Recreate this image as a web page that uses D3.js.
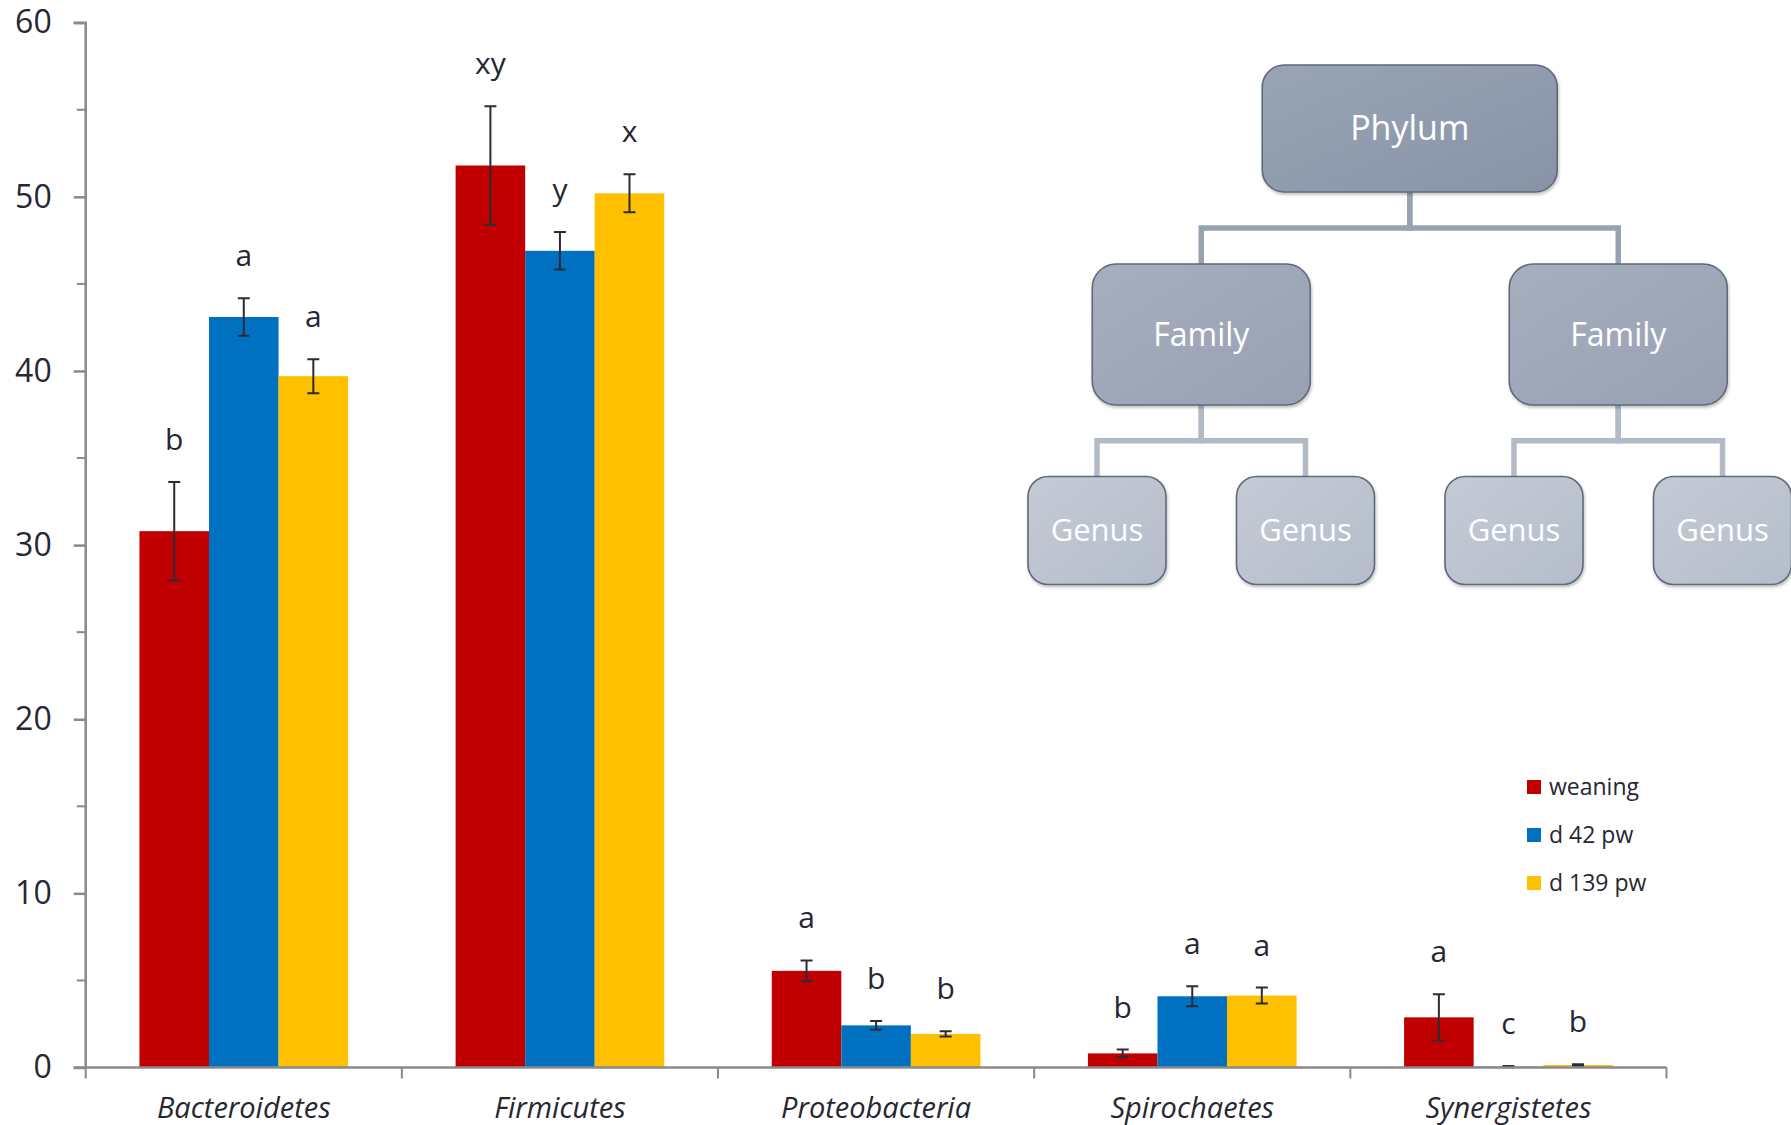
<!DOCTYPE html>
<html>
<head>
<meta charset="utf-8">
<script src="https://cdnjs.cloudflare.com/ajax/libs/d3/7.8.5/d3.min.js"></script>
<style>
  html, body { margin: 0; padding: 0; background: #ffffff; }
  svg { display: block; }
</style>
</head>
<body>
<svg id="chart" width="1791" height="1125"></svg>
<script>
// ---- data ----
const phyla = ["Bacteroidetes", "Firmicutes", "Proteobacteria", "Spirochaetes", "Synergistetes"];
const timepoints = ["weaning", "d 42 pw", "d 139 pw"];

// mean relative abundance (%) per phylum
const weaning = [30.8, 51.8, 5.55, 0.81, 2.88];
const d42pw   = [43.1, 46.9, 2.42, 4.09, 0.05];
const d139pw  = [39.7, 50.2, 1.93, 4.13, 0.14];

// standard errors
const weaningErr = [2.83, 3.4, 0.6, 0.22, 1.33];
const d42pwErr   = [1.08, 1.08, 0.25, 0.57, 0.03];
const d139pwErr  = [0.98, 1.09, 0.15, 0.46, 0.05];

// significance letters
const weaningSig = ["b", "xy", "a", "b", "a"];
const d42pwSig   = ["a", "y", "b", "a", "c"];
const d139pwSig  = ["a", "x", "b", "a", "b"];

const yTicks = [0, 10, 20, 30, 40, 50, 60];
const yMinorTicks = [5, 15, 25, 35, 45, 55];

// taxonomy hierarchy shown beside the bars
const taxonomy = {
  name: "Phylum",
  children: [
    { name: "Family", children: [{ name: "Genus" }, { name: "Genus" }] },
    { name: "Family", children: [{ name: "Genus" }, { name: "Genus" }] }
  ]
};

// ---- setup ----
const colors = ["#C00000", "#0070C0", "#FFC000"];
const textColor = "#272733";
const axisColor = "#8a8a8a";

const series = [
  { key: timepoints[0], values: weaning, err: weaningErr, sig: weaningSig },
  { key: timepoints[1], values: d42pw,   err: d42pwErr,   sig: d42pwSig },
  { key: timepoints[2], values: d139pw,  err: d139pwErr,  sig: d139pwSig }
];

const svg = d3.select("#chart");

const plot = { left: 85.7, right: 1666.5, top: 22.7, bottom: 1067.5 };

const y = d3.scaleLinear().domain([0, 60]).range([plot.bottom, plot.top]);
const x = d3.scaleBand().domain(phyla).range([plot.left, plot.right]).paddingInner(0).paddingOuter(0);
const groupPad = 0.17; // fraction of band left empty on each side
const xs = d3.scaleBand().domain(timepoints)
  .range([x.bandwidth() * groupPad, x.bandwidth() * (1 - groupPad)]);

// ---- bars ----
const flat = [];
series.forEach((s, si) => {
  phyla.forEach((p, pi) => {
    flat.push({ phylum: p, key: s.key, si, v: s.values[pi], e: s.err[pi], sig: s.sig[pi] });
  });
});

const barG = svg.append("g");
barG.selectAll("rect").data(flat).join("rect")
  .attr("x", d => x(d.phylum) + xs(d.key))
  .attr("y", d => y(d.v))
  .attr("width", xs.bandwidth())
  .attr("height", d => y(0) - y(d.v))
  .attr("fill", d => colors[d.si]);

// ---- error bars ----
const errG = svg.append("g").attr("stroke", "#2b2b36").attr("stroke-width", 2).attr("fill", "none");
const cx = d => x(d.phylum) + xs(d.key) + xs.bandwidth() / 2;
const capW = 6;
errG.selectAll("path").data(flat).join("path")
  .attr("d", d => {
    const c = cx(d), y1 = y(d.v + d.e), y0 = y(Math.max(0, d.v - d.e));
    return `M${c},${y0}V${y1}M${c - capW},${y1}H${c + capW}M${c - capW},${y0}H${c + capW}`;
  });

// ---- significance letters ----
svg.append("g").selectAll("text").data(flat).join("text")
  .attr("x", cx)
  .attr("y", d => y(d.v + d.e) - 32)
  .attr("text-anchor", "middle")
  .attr("font-family", "'Open Sans', sans-serif")
  .attr("font-size", 30)
  .attr("fill", textColor)
  .text(d => d.sig);

// ---- y axis ----
const yAxis = d3.axisLeft(y).tickValues(yTicks).tickSize(12).tickPadding(22).tickFormat(d3.format("d"));
const yG = svg.append("g").attr("transform", `translate(${plot.left},0)`).call(yAxis);
yG.select(".domain").attr("stroke", axisColor).attr("stroke-width", 2.5)
  .attr("d", `M-12,${plot.top}H0V${plot.bottom}H-12`);
yG.selectAll(".tick line").attr("stroke", axisColor).attr("stroke-width", 2.5);
yG.selectAll(".tick text")
  .attr("font-family", "'Open Sans', sans-serif")
  .attr("font-size", 32)
  .attr("fill", textColor);
yG.selectAll(".minor").data(yMinorTicks).join("line")
  .attr("class", "minor")
  .attr("x1", -9).attr("x2", 0)
  .attr("y1", d => y(d)).attr("y2", d => y(d))
  .attr("stroke", axisColor).attr("stroke-width", 2);

// ---- x axis ----
const xG = svg.append("g");
xG.append("line")
  .attr("x1", plot.left).attr("x2", plot.right).attr("y1", plot.bottom).attr("y2", plot.bottom)
  .attr("stroke", axisColor).attr("stroke-width", 2.5);
const boundaries = phyla.map(p => x(p)).concat([x(phyla[phyla.length - 1]) + x.bandwidth()]);
xG.selectAll(".sep").data(boundaries).join("line")
  .attr("class", "sep")
  .attr("x1", d => d).attr("x2", d => d)
  .attr("y1", plot.bottom).attr("y2", plot.bottom + 11)
  .attr("stroke", axisColor).attr("stroke-width", 2);
xG.selectAll(".cat").data(phyla).join("text")
  .attr("class", "cat")
  .attr("x", d => x(d) + x.bandwidth() / 2)
  .attr("y", 1118)
  .attr("text-anchor", "middle")
  .attr("font-family", "'Open Sans', sans-serif")
  .attr("font-style", "italic")
  .attr("font-size", 29)
  .attr("fill", textColor)
  .text(d => d);

// ---- legend ----
const legend = svg.append("g").attr("transform", "translate(1527,787)");
const li = legend.selectAll("g").data(timepoints).join("g")
  .attr("transform", (d, i) => `translate(0,${i * 48})`);
li.append("rect").attr("x", 0).attr("y", -7).attr("width", 14).attr("height", 14)
  .attr("fill", (d, i) => colors[i]);
li.append("text").attr("x", 22).attr("y", 8)
  .attr("font-family", "'Open Sans', sans-serif")
  .attr("font-size", 23)
  .attr("fill", textColor)
  .text(d => d);

// ---- taxonomy tree ----
const defs = svg.append("defs");
const levelFill = [
  ["#99a4b5", "#8894a6"],
  ["#a5afbe", "#98a1b2"],
  ["#c4cbd6", "#b5bdca"]
];
levelFill.forEach((c, i) => {
  const g = defs.append("linearGradient").attr("id", `lvl${i}`)
    .attr("x1", "0%").attr("y1", "0%").attr("x2", "100%").attr("y2", "100%");
  g.append("stop").attr("offset", "0%").attr("stop-color", c[0]);
  g.append("stop").attr("offset", "100%").attr("stop-color", c[1]);
});
const shadow = defs.append("filter").attr("id", "boxShadow")
  .attr("x", "-10%").attr("y", "-10%").attr("width", "130%").attr("height", "130%");
shadow.append("feDropShadow").attr("dx", 1).attr("dy", 2).attr("stdDeviation", 1.5)
  .attr("flood-color", "#000").attr("flood-opacity", 0.25);

const root = d3.hierarchy(taxonomy);
d3.tree().nodeSize([208.5, 1]).separation(() => 1)(root);

const treeX = 1409.75;
const levelY = [128.5, 334.5, 530.5];
const boxSize = [[295, 127], [218, 141], [138, 108]];
const boxRadius = [22, 24, 20];
const fontSize = [34, 32, 31];
const linkColor = ["#98a3b2", "#b2bac7"];

const treeG = svg.append("g");
const nodes = root.descendants();
nodes.forEach(n => { n.cx = treeX + n.x; n.cy = levelY[n.depth]; });

// elbow connectors
treeG.append("g").selectAll("path").data(root.links()).join("path")
  .attr("fill", "none")
  .attr("stroke", d => linkColor[d.source.depth])
  .attr("stroke-width", 5.5)
  .attr("d", d => {
    const sb = d.source.cy + boxSize[d.source.depth][1] / 2;
    const tt = d.target.cy - boxSize[d.target.depth][1] / 2;
    const mid = (sb + tt) / 2;
    return `M${d.source.cx},${sb}V${mid}H${d.target.cx}V${tt}`;
  });

const nodeG = treeG.append("g").selectAll("g").data(nodes).join("g")
  .attr("transform", d => `translate(${d.cx},${d.cy})`);
nodeG.append("rect")
  .attr("x", d => -boxSize[d.depth][0] / 2)
  .attr("y", d => -boxSize[d.depth][1] / 2)
  .attr("width", d => boxSize[d.depth][0])
  .attr("height", d => boxSize[d.depth][1])
  .attr("rx", d => boxRadius[d.depth])
  .attr("fill", d => `url(#lvl${d.depth})`)
  .attr("stroke", "#5e6a7b")
  .attr("stroke-width", 1.6)
  .attr("filter", "url(#boxShadow)");
nodeG.append("text")
  .attr("text-anchor", "middle")
  .attr("dy", "0.35em")
  .attr("font-family", "'Open Sans', sans-serif")
  .attr("font-size", d => fontSize[d.depth])
  .attr("fill", "#ffffff")
  .text(d => d.data.name);
</script>
</body>
</html>
